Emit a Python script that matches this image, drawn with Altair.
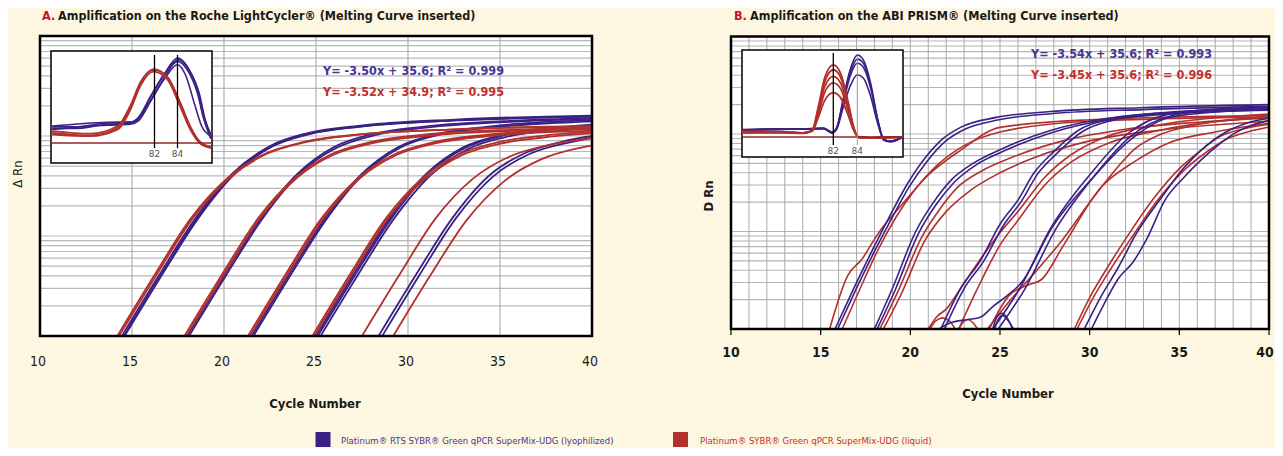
import altair as alt
import pandas as pd

# ---------------- colours / fonts ----------------
BG = "#fdf7e1"
BLUE = "#3b2184"
RED = "#b2302d"
TXT_BLUE = "#4a3592"
TXT_RED = "#c0302e"
CRIMSON = "#c8102e"
FONT = "DejaVu Sans Condensed, DejaVu Sans, sans-serif"

# ---------------- data: panel A amplification curves (cycle, delta Rn) ----------------
A_BLUE = [
    [(14.45, 1), (16.45, 4), (18.45, 15), (20.45, 42), (22.45, 78), (24.45, 104), (27.45, 125), (32.45, 143), (40, 157)],
    [(14.55, 1), (16.55, 4), (18.55, 15), (20.55, 43), (22.55, 80), (24.55, 107), (27.55, 128), (32.55, 146), (40, 160)],
    [(14.6, 1), (16.6, 4), (18.6, 15), (20.6, 42), (22.6, 78), (24.6, 104), (27.6, 125), (32.6, 143), (40, 156)],
    [(18.0, 1), (20.0, 4), (22.0, 15), (24.0, 42), (26.0, 78), (28.0, 104), (31.0, 125), (36.0, 143), (40, 151)],
    [(18.1, 1), (20.1, 4), (22.1, 15), (24.1, 42), (26.1, 76), (28.1, 101), (31.1, 122), (36.1, 140), (40, 148)],
    [(21.5, 1), (23.5, 4), (25.5, 15), (27.5, 42), (29.5, 78), (31.5, 104), (34.5, 125), (39.5, 143), (40, 144)],
    [(21.6, 1), (23.6, 4), (25.6, 15), (27.6, 42), (29.6, 77), (31.6, 102), (34.6, 122), (39.6, 139), (40, 140)],
    [(25.0, 1), (27.0, 4), (29.0, 15), (31.0, 42), (33.0, 77), (35.0, 101), (38.0, 121), (40, 130)],
    [(25.1, 1), (27.1, 4), (29.1, 15), (31.1, 42), (33.1, 76), (35.1, 100), (38.1, 120), (40, 128)],
    [(25.25, 1), (27.25, 4), (29.25, 15), (31.25, 41), (33.25, 74), (35.25, 97), (38.25, 116), (40, 124)],
    [(28.4, 1), (30.4, 4), (32.4, 15), (34.4, 40), (36.4, 68), (38.4, 88), (40, 100)],
    [(28.6, 1), (30.6, 4), (32.6, 15), (34.6, 39), (36.6, 66), (38.6, 85), (40, 96)],
]
A_RED = [
    [(14.2, 1), (16.2, 4), (18.2, 15), (20.2, 38), (22.2, 66), (24.2, 86), (27.2, 103), (32.2, 116), (40, 126)],
    [(14.3, 1), (16.3, 4), (18.3, 15), (20.3, 38), (22.3, 66), (24.3, 86), (27.3, 103), (32.3, 116), (40, 125)],
    [(17.85, 1), (19.85, 4), (21.85, 15), (23.85, 38), (25.85, 66), (27.85, 86), (30.85, 103), (35.85, 116), (40, 122)],
    [(17.95, 1), (19.95, 4), (21.95, 15), (23.95, 38), (25.95, 65), (27.95, 84), (30.95, 100), (35.95, 113), (40, 119)],
    [(21.3, 1), (23.3, 4), (25.3, 15), (27.3, 38), (29.3, 66), (31.3, 86), (34.3, 103), (39.3, 116), (40, 117)],
    [(21.4, 1), (23.4, 4), (25.4, 15), (27.4, 38), (29.4, 65), (31.4, 84), (34.4, 100), (39.4, 112), (40, 113)],
    [(24.8, 1), (26.8, 4), (28.8, 15), (30.8, 38), (32.8, 66), (34.8, 86), (37.8, 103), (40, 110)],
    [(24.9, 1), (26.9, 4), (28.9, 15), (30.9, 37), (32.9, 64), (34.9, 83), (37.9, 99), (40, 106)],
    [(27.5, 1), (29.5, 4), (31.5, 15), (33.5, 37), (35.5, 62), (37.5, 80), (40, 95)],
    [(29.2, 1), (31.2, 4), (33.2, 14.5), (35.2, 35), (37.2, 58), (39.2, 75), (40, 80)],
]

# ---------------- data: panel B amplification curves (cycle, D Rn) ----------------
B_BLUE = [
    [(15.8, 1), (16.8, 2.5), (17.8, 6), (18.8, 13.8), (19.8, 30), (20.8, 56), (21.8, 89), (22.8, 117), (24.8, 148), (27.8, 170), (32.8, 186), (40, 200)],
    [(15.95, 1), (16.95, 2.5), (17.95, 6), (18.95, 13.5), (19.95, 29), (20.95, 53), (21.95, 84), (22.95, 110), (24.95, 140), (27.95, 162), (32.95, 178), (40, 192)],
    [(18.0, 1), (19.0, 2.6), (20.3, 10), (21.3, 20), (22.3, 34), (23.5, 50), (25.0, 69), (27.9, 110), (31.0, 145), (35.0, 168), (40, 178)],
    [(18.15, 1), (19.15, 2.5), (20.45, 9.5), (21.45, 19), (22.45, 32), (23.65, 48), (25.15, 66), (28.0, 105), (31.0, 140), (35.0, 162), (40, 175)],
    [(21.7, 1), (22.8, 2.6), (23.9, 5), (25.05, 12.3), (26.0, 21), (26.9, 40), (28.0, 66), (29.4, 110), (31.0, 140), (34.0, 165), (40, 185)],
    [(21.9, 1), (23.0, 2.6), (24.1, 5), (25.25, 12), (26.2, 20.5), (27.1, 39), (28.2, 64), (29.6, 106), (31.2, 137), (34.2, 162), (40, 182)],
    [(21.6, 1), (22.2, 1.15), (23.2, 1.25), (23.9, 1.32), (24.6, 1.7), (25.4, 2.2), (26.2, 3), (27.9, 11), (30.2, 36), (32.3, 88), (34.6, 150), (40, 182)],
    [(24.6, 1), (26.15, 2.7), (27.85, 11), (30.1, 40), (32.1, 100), (34.4, 160), (37.0, 180), (40, 188)],
    [(24.9, 1), (26.4, 2.6), (28.1, 10.5), (30.3, 38), (32.3, 95), (34.6, 155), (37.0, 176), (40, 185)],
    [(29.7, 1), (30.6, 2.1), (31.6, 4.3), (32.6, 9.5), (33.9, 21), (35.3, 46), (36.5, 76), (37.6, 105), (38.8, 130), (40, 145)],
    [(30.1, 1), (30.8, 1.8), (31.6, 3.3), (32.4, 4.8), (33.2, 8.5), (34.2, 21), (35.2, 35), (36.2, 54), (37.2, 78), (38.1, 102), (39.0, 122), (40, 138)],
    [(24.6, 1), (24.85, 1.35), (25.1, 1.45), (25.4, 1.3), (25.7, 1)],
    [(24.7, 1), (24.95, 1.3), (25.15, 1.38), (25.45, 1.22), (25.75, 1)],
]
B_RED = [
    [(15.5, 1), (16.5, 3.5), (17.3, 5.2), (18.2, 9.5), (19.5, 18.6), (21.0, 38), (22.8, 68), (25.0, 117), (30.0, 140), (40, 155)],
    [(16.2, 1), (17.2, 2.6), (18.2, 6.5), (19.2, 14), (20.2, 26), (21.5, 48), (23.0, 76), (25.0, 105), (30.0, 135), (40, 150)],
    [(18.3, 1), (19.3, 2.4), (20.6, 8.5), (21.6, 16.5), (22.6, 28), (24.0, 42), (25.5, 56), (28.5, 85), (32.0, 112), (36.0, 132), (40, 145)],
    [(18.5, 1), (19.5, 2.3), (20.8, 8), (22.0, 16), (23.3, 26), (25.0, 40), (27.0, 58), (30.0, 85), (34.0, 110), (40, 135)],
    [(21.0, 1), (21.5, 1.35), (22.0, 1.6), (22.8, 2.6), (24.0, 5.5), (25.05, 10), (26.0, 16), (27.5, 36), (29.0, 62), (31.0, 95), (34.0, 125), (40, 160)],
    [(22.7, 1), (23.7, 2.5), (25.05, 7.5), (26.0, 13), (27.5, 30), (29.0, 52), (31.0, 80), (34.0, 110), (40, 150)],
    [(24.3, 1), (25.5, 1.9), (27.0, 3.9), (28.5, 8.3), (30.1, 21), (31.3, 40), (32.5, 70), (34.0, 100), (36.0, 125), (40, 150)],
    [(24.4, 1), (25.5, 2.2), (26.5, 2.8), (27.3, 3.2), (28.5, 7), (30.6, 28), (32.5, 52), (34.4, 81), (37.0, 105), (40, 129)],
    [(29.15, 1), (30.0, 2.1), (31.0, 4.3), (32.2, 9.5), (33.5, 21), (35.1, 46), (36.2, 68), (37.2, 93), (38.5, 112), (40, 126)],
    [(29.3, 1), (30.2, 2.1), (31.2, 4.2), (32.4, 9), (33.7, 20), (35.3, 43), (36.5, 65), (37.6, 88), (38.8, 105), (40, 118)],
    [(22.7, 1), (22.95, 1.18), (23.2, 1.25), (23.45, 1.18), (23.75, 1)],
    [(21.1, 1), (21.4, 1.2), (21.8, 1.3), (22.2, 1.2), (22.5, 1)],
]

# ---------------- data: melting-curve insets (temperature, -dF/dT) ----------------
IA_BLUE = [
    [(73.1, 0.19), (75, 0.19), (77.9, 0.235), (79.9, 0.24), (80.5, 0.28), (81.65, 0.54), (82.8, 0.8), (84.0, 1.0), (84.9, 0.89), (85.75, 0.62), (86.25, 0.31), (86.9, 0.05)],
    [(73.1, 0.17), (75, 0.17), (77.9, 0.22), (79.9, 0.23), (80.5, 0.27), (81.65, 0.5), (82.8, 0.76), (84.0, 0.96), (84.9, 0.85), (85.75, 0.58), (86.25, 0.3), (86.9, 0.06)],
    [(73.1, 0.16), (77.9, 0.21), (79.9, 0.22), (80.6, 0.26), (81.7, 0.5), (82.9, 0.76), (84.0, 0.92), (84.7, 0.8), (85.5, 0.45), (86.1, 0.2), (86.9, 0.08)],
    [(73.1, 0.2), (77.9, 0.245), (80.0, 0.25), (80.6, 0.3), (81.7, 0.56), (82.9, 0.82), (84.1, 0.98), (85.0, 0.86), (85.9, 0.58), (86.4, 0.28), (86.9, 0.1)],
]
IA_RED = [
    [(73.1, 0.12), (76.4, 0.09), (78.8, 0.18), (79.9, 0.42), (80.8, 0.71), (81.9, 0.87), (83.1, 0.78), (84.25, 0.47), (85.1, 0.19), (86.0, 0.01), (86.9, -0.05)],
    [(73.1, 0.14), (76.4, 0.11), (78.8, 0.2), (79.9, 0.44), (80.8, 0.72), (81.95, 0.86), (83.2, 0.76), (84.3, 0.45), (85.2, 0.17), (86.0, 0.0), (86.9, -0.04)],
    [(73.1, 0.1), (76.4, 0.08), (78.8, 0.16), (79.9, 0.39), (80.8, 0.68), (81.9, 0.84), (83.1, 0.75), (84.2, 0.44), (85.1, 0.16), (86.0, -0.01), (86.9, -0.06)],
]
IA_BASE = [(73.0, 0.0), (87.0, 0.0)]
IB_BLUE = [
    [(74.4, 0.085), (77.6, 0.1), (79.8, 0.1), (81.2, 0.11), (81.9, 0.05), (82.3, 0.12), (82.8, 0.45), (83.4, 0.82), (84.0, 1.0), (84.5, 0.94), (85.1, 0.66), (85.7, 0.21), (86.2, -0.04), (86.75, -0.06), (87.8, 0.0)],
    [(74.4, 0.08), (77.6, 0.095), (79.8, 0.095), (81.2, 0.1), (81.9, 0.05), (82.3, 0.11), (82.8, 0.42), (83.4, 0.78), (84.0, 0.95), (84.5, 0.9), (85.1, 0.63), (85.7, 0.2), (86.2, -0.03), (86.75, -0.05), (87.8, 0.0)],
    [(74.4, 0.09), (77.6, 0.1), (79.8, 0.1), (81.2, 0.105), (81.9, 0.06), (82.3, 0.12), (82.8, 0.4), (83.4, 0.74), (84.0, 0.9), (84.5, 0.85), (85.1, 0.6), (85.7, 0.2), (86.2, -0.03), (86.75, -0.05), (87.8, 0.0)],
    [(74.4, 0.08), (77.6, 0.09), (79.8, 0.1), (81.2, 0.1), (81.9, 0.05), (82.3, 0.1), (82.8, 0.35), (83.4, 0.62), (84.0, 0.76), (84.5, 0.72), (85.1, 0.5), (85.7, 0.16), (86.2, -0.03), (86.75, -0.05), (87.8, 0.0)],
]
IB_RED = [
    [(74.4, 0.06), (77.6, 0.06), (79.5, 0.05), (80.25, 0.085), (80.75, 0.37), (81.3, 0.73), (82.0, 0.88), (82.6, 0.78), (83.2, 0.45), (83.7, 0.12), (84.1, -0.01), (85.1, -0.01), (87.8, 0.0)],
    [(74.4, 0.07), (77.6, 0.065), (79.5, 0.05), (80.25, 0.08), (80.75, 0.34), (81.3, 0.68), (82.0, 0.82), (82.6, 0.73), (83.2, 0.42), (83.7, 0.11), (84.1, 0.0), (85.1, -0.01), (87.8, 0.0)],
    [(74.4, 0.05), (77.6, 0.06), (79.5, 0.05), (80.25, 0.08), (80.75, 0.31), (81.3, 0.62), (82.0, 0.74), (82.6, 0.66), (83.2, 0.38), (83.7, 0.1), (84.1, 0.0), (85.1, -0.01), (87.8, 0.0)],
    [(74.4, 0.06), (77.6, 0.055), (79.5, 0.05), (80.25, 0.075), (80.75, 0.28), (81.3, 0.55), (82.0, 0.66), (82.6, 0.59), (83.2, 0.34), (83.7, 0.09), (84.1, 0.0), (85.1, -0.01), (87.8, 0.0)],
    [(74.4, 0.05), (77.6, 0.05), (79.5, 0.045), (80.25, 0.07), (80.75, 0.24), (81.3, 0.45), (82.0, 0.54), (82.6, 0.48), (83.2, 0.28), (83.7, 0.08), (84.1, 0.0), (85.1, -0.01), (87.8, 0.0)],
]
IB_BASE = [(74.4, 0.0), (87.8, 0.0)]

# ---------------- axes / labels ----------------
X_TICKS = [10, 15, 20, 25, 30, 35, 40]
X_TICK_LABELS = ["10", "15", "20", "25", "30", "35", "40"]
A_VGRID = [15, 20, 25, 30, 35]
B_VGRID = list(range(11, 40))
Y_GRID = [1, 2, 3, 4, 5, 6, 7, 8, 9, 10, 20, 30, 40, 50, 60, 70, 80, 90,
          100, 200, 300, 400, 500, 600, 700, 800, 900]
INSET_TICKS = [82, 84]
INSET_TICK_LABELS = ["82", "84"]

TITLE_A = "Amplification on the Roche LightCycler® (Melting Curve inserted)"
TITLE_B = "Amplification on the ABI PRISM® (Melting Curve inserted)"
EQ_A = ["Y= -3.50x + 35.6; R² = 0.999", "Y= -3.52x + 34.9; R² = 0.995"]
EQ_B = ["Y= -3.54x + 35.6; R² = 0.993", "Y= -3.45x + 35.6; R² = 0.996"]
LEGEND = ["Platinum® RTS SYBR® Green qPCR SuperMix-UDG (lyophilized)",
          "Platinum® SYBR® Green qPCR SuperMix-UDG (liquid)"]

# ---------------- geometry (view pixels) ----------------
W, H = 1267, 440
A_XR, A_YR = [32, 584], [328, 28]
B_XR, B_YR = [723, 1261], [321, 28.5]
IA_XR, IA_YR = [43, 204], [155, 43]
IB_XR, IB_YR = [734, 895], [149, 42]
IA_XD, IA_YD = [73, 87], [-0.235, 1.082]
IB_XD, IB_YD = [74.4, 87.8], [-0.244, 1.061]

ONE = pd.DataFrame({"k": [0]})


def lin(dom, rng):
    return alt.Scale(domain=dom, range=rng, nice=False, zero=False)


def logs(rng):
    return alt.Scale(type="log", domain=[1, 1000], range=rng, nice=False)


def curves_df(curves):
    rows = []
    for i, cur in enumerate(curves):
        for j, (c, v) in enumerate(cur):
            rows.append({"id": i, "o": j, "c": c, "v": v})
    return pd.DataFrame(rows)


def lines(curves, xs, ys, color, width, opacity=1.0):
    return alt.Chart(curves_df(curves)).mark_line(
        interpolate="monotone", color=color, strokeWidth=width, opacity=opacity
    ).encode(
        x=alt.X("c:Q", scale=xs), y=alt.Y("v:Q", scale=ys),
        detail="id:N", order="o:Q")


def box(xs, ys, x0, x1, y0, y1, **kw):
    return alt.Chart(ONE).mark_rect(**kw).encode(
        x=alt.XDatum(x0, scale=xs, type="quantitative"), x2=alt.X2Datum(x1),
        y=alt.YDatum(y0, scale=ys, type="quantitative"), y2=alt.Y2Datum(y1))


def hgrid(xs, ys, color, width):
    return alt.Chart(pd.DataFrame({"v": Y_GRID})).mark_rule(color=color, strokeWidth=width).encode(
        y=alt.Y("v:Q", scale=ys),
        x=alt.XDatum(10, scale=xs, type="quantitative"), x2=alt.X2Datum(40))


def vgrid(vals, xs, ys, color, width):
    return alt.Chart(pd.DataFrame({"c": vals})).mark_rule(color=color, strokeWidth=width).encode(
        x=alt.X("c:Q", scale=xs),
        y=alt.YDatum(1, scale=ys, type="quantitative"), y2=alt.Y2Datum(1000))


def ticklabels(xs, ypix, weight, size, ticks, labels, dx=0):
    df = pd.DataFrame({"c": ticks, "lab": labels})
    return alt.Chart(df).mark_text(font=FONT, fontSize=size, fontWeight=weight, dx=dx,
                                   color="#1a1a1a", baseline="middle").encode(
        x=alt.X("c:Q", scale=xs), y=alt.value(ypix), text="lab:N")


def txt(s, x, y, color="#1a1a1a", size=14, weight="bold", align="left", angle=0, font=FONT):
    kw = dict(font=font, fontSize=size, fontWeight=weight, color=color,
              align=align, baseline="middle")
    if angle:
        kw["angle"] = angle
    return alt.Chart(ONE).mark_text(**kw).encode(
        x=alt.value(x), y=alt.value(y), text=alt.value(s))


def inset(xd, yd, xr, yr, blue, red, base, vline_specs, label_y):
    xs, ys = lin(xd, xr), lin(yd, yr)
    layers = [
        box(xs, ys, xd[0], xd[1], yd[0], yd[1], fill="white", stroke="black", strokeWidth=1.5),
        lines(blue, xs, ys, BLUE, 1.6),
        lines(red, xs, ys, RED, 1.8),
        lines([base], xs, ys, "#8a2a2a", 1.6),
    ]
    for t, y0, y1, col, w in vline_specs:
        layers.append(alt.Chart(pd.DataFrame({"t": [t]})).mark_rule(color=col, strokeWidth=w).encode(
            x=alt.X("t:Q", scale=xs),
            y=alt.YDatum(y0, scale=ys, type="quantitative"), y2=alt.Y2Datum(y1)))
    df = pd.DataFrame({"t": INSET_TICKS, "lab": INSET_TICK_LABELS})
    layers.append(alt.Chart(df).mark_text(font="DejaVu Sans", fontSize=9, color="#555555",
                                          baseline="middle").encode(
        x=alt.X("t:Q", scale=xs),
        y=alt.YDatum(label_y, scale=ys, type="quantitative"), text="lab:N"))
    return layers


# ---------------- panel A ----------------
xa, ya = lin([10, 40], A_XR), logs(A_YR)
panel_a = [
    box(xa, ya, 10, 40, 1, 1000, fill="white"),
    hgrid(xa, ya, "#b9b9b9", 1.2),
    vgrid(A_VGRID, xa, ya, "#b0b0b0", 1.2),
    lines(A_BLUE, xa, ya, BLUE, 1.8),
    lines(A_RED, xa, ya, RED, 1.8),
    box(xa, ya, 10, 40, 1, 1000, fillOpacity=0, stroke="black", strokeWidth=2.5),
    ticklabels(xa, 354, "normal", 14, X_TICKS, X_TICK_LABELS, dx=-2),
]
panel_a += inset(IA_XD, IA_YD, IA_XR, IA_YR, IA_BLUE, IA_RED, IA_BASE,
                 [(82, -0.06, 1.035, "black", 1.3), (84, -0.06, 1.035, "black", 1.3)], -0.13)

# ---------------- panel B ----------------
xb, yb = lin([10, 40], B_XR), logs(B_YR)
panel_b = [
    box(xb, yb, 10, 40, 1, 1000, fill="white"),
    hgrid(xb, yb, "#b4b4b4", 1.1),
    vgrid(B_VGRID, xb, yb, "#a9a9a9", 1.0),
    lines(B_RED, xb, yb, RED, 1.6),
    lines(B_BLUE, xb, yb, BLUE, 1.6),
    box(xb, yb, 10, 40, 1, 1000, fillOpacity=0, stroke="black", strokeWidth=2.5),
    alt.Chart(pd.DataFrame({"c": X_TICKS})).mark_rule(color="black", strokeWidth=1.2).encode(
        x=alt.X("c:Q", scale=xb), y=alt.value(322), y2=alt.value(327)),
    ticklabels(xb, 345, "bold", 14, X_TICKS[:-1], X_TICK_LABELS[:-1]),
    ticklabels(xb, 345, "bold", 14, X_TICKS[-1:], X_TICK_LABELS[-1:], dx=-4),
]
panel_b += inset(IB_XD, IB_YD, IB_XR, IB_YR, IB_BLUE, IB_RED, IB_BASE,
                 [(82, -0.098, 1.024, "black", 1.3), (84, -0.098, 0.99, "#999999", 1.0)], -0.17)

# ---------------- texts ----------------
texts = [
    txt("A.", 34, 8, color=CRIMSON, size=12.5),
    txt(TITLE_A, 50, 8, size=12.5),
    txt("B.", 726, 8, color=CRIMSON, size=12.5),
    txt(TITLE_B, 742, 8, size=12.5),
    txt(EQ_A[0], 315, 63, color=TXT_BLUE, size=12.5),
    txt(EQ_A[1], 315, 84, color=TXT_RED, size=12.5),
    txt(EQ_B[0], 1023, 46, color=TXT_BLUE, size=12.5),
    txt(EQ_B[1], 1023, 67, color=TXT_RED, size=12.5),
    txt("Δ Rn", 10, 166, size=13, weight="normal", align="center", angle=270),
    txt("D Rn", 701, 188, size=13, weight="bold", align="center", angle=270),
    txt("Cycle Number", 307, 396, size=13, align="center"),
    txt("Cycle Number", 1000, 386, size=13, align="center"),
    alt.Chart(ONE).mark_square(size=225, color=BLUE, opacity=1).encode(x=alt.value(315), y=alt.value(431.5)),
    alt.Chart(ONE).mark_square(size=225, color=RED, opacity=1).encode(x=alt.value(672.5), y=alt.value(431.5)),
    txt(LEGEND[0], 333, 433, color=TXT_BLUE, size=9.5, weight="normal"),
    txt(LEGEND[1], 692, 433, color=TXT_RED, size=9.5, weight="normal"),
]

chart = alt.layer(*(panel_a + panel_b + texts)).resolve_scale(
    x="independent", y="independent"
).properties(
    width=W, height=H, padding=0,
    autosize=alt.AutoSizeParams(type="none"),
    background=BG,
).configure_view(stroke=None).configure_axis(disable=True)

chart.save("out.html", embed_options={"renderer": "svg", "actions": False})
